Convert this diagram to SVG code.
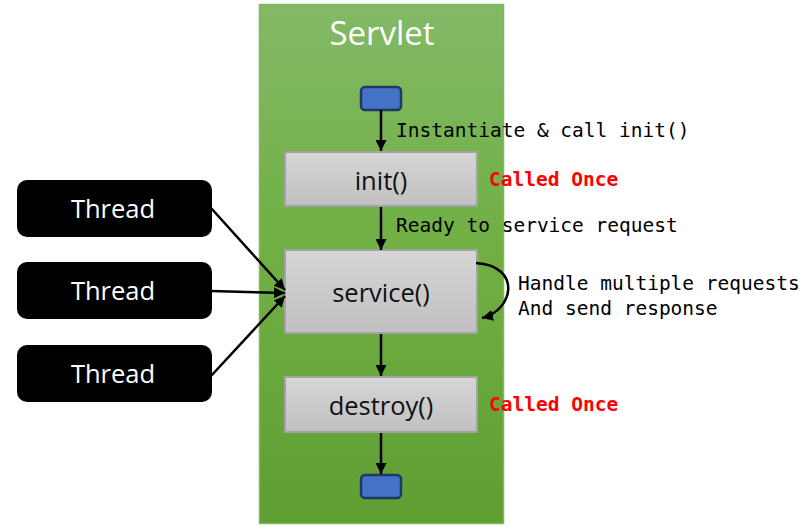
<svg xmlns="http://www.w3.org/2000/svg" width="806" height="532" viewBox="0 0 806 532">
<defs>
<linearGradient id="gGreen" x1="0" y1="0" x2="0" y2="1">
<stop offset="0" stop-color="#83b967"/>
<stop offset="0.45" stop-color="#70b044"/>
<stop offset="1" stop-color="#5f9e33"/>
</linearGradient>
<linearGradient id="gGray" x1="0" y1="0" x2="0" y2="1">
<stop offset="0" stop-color="#d6d6d6"/>
<stop offset="1" stop-color="#c0c0c0"/>
</linearGradient>
<marker id="ah" viewBox="0 0 10 10" refX="10" refY="5" markerWidth="4.4" markerHeight="4.4" markerUnits="strokeWidth" orient="auto">
<path d="M0,0 L10,5 L0,10 z" fill="#000"/>
</marker>
</defs>
<style>
.box{fill:url(#gGray);stroke:#a3a3a3;stroke-width:2}
.term{fill:#4472c4;stroke:#1f3864;stroke-width:2.5}
.thr{fill:#000}
.lbl{font-family:"Open Sans","Noto Sans",sans-serif;fill:#111;text-anchor:middle}
.wl{font-family:"Open Sans","Noto Sans",sans-serif;fill:#fff;text-anchor:middle}
.mono{font-family:"DejaVu Sans Mono","Liberation Mono",monospace;font-size:19.5px;fill:#000}
.red{font-family:"DejaVu Sans Mono","Liberation Mono",monospace;font-size:19.5px;font-weight:bold;fill:#ff0000}
.c{fill:none;stroke:#000;stroke-width:2.5;marker-end:url(#ah)}
</style>
<g id="servlet">
<rect x="259.5" y="4.5" width="244" height="519" fill="url(#gGreen)" stroke="#7db95a" stroke-width="1.5"/>
<text class="wl" x="382" y="45" font-size="33">Servlet</text>
</g>
<g id="start"><rect class="term" x="361" y="87" width="40" height="23" rx="4"/></g>
<g id="init"><rect class="box" x="285" y="152" width="192" height="54"/><text class="lbl" x="381" y="190" font-size="25.5">init()</text></g>
<g id="service"><rect class="box" x="285" y="250" width="192" height="83"/><text class="lbl" x="381" y="302" font-size="25.5">service()</text></g>
<g id="destroy"><rect class="box" x="285" y="377" width="192" height="55"/><text class="lbl" x="381" y="415" font-size="25.5">destroy()</text></g>
<g id="end"><rect class="term" x="361" y="475" width="40" height="23" rx="4"/></g>
<g id="thread1"><rect class="thr" x="17" y="180" width="195" height="57" rx="10"/><text class="wl" x="113" y="218" font-size="25.5">Thread</text></g>
<g id="thread2"><rect class="thr" x="17" y="262" width="195" height="57" rx="10"/><text class="wl" x="113" y="300" font-size="25.5">Thread</text></g>
<g id="thread3"><rect class="thr" x="17" y="345" width="195" height="57" rx="10"/><text class="wl" x="113" y="383" font-size="25.5">Thread</text></g>
<g id="connectors">
<line class="c" x1="211" y1="208" x2="285" y2="290"/>
<line class="c" x1="211" y1="291" x2="285" y2="293"/>
<line class="c" x1="211" y1="376" x2="285" y2="296"/>
<line class="c" x1="381" y1="110" x2="381" y2="151"/>
<line class="c" x1="381" y1="207" x2="381" y2="250"/>
<line class="c" x1="381" y1="334" x2="381" y2="376"/>
<line class="c" x1="381" y1="433" x2="381" y2="474"/>
<path class="c" d="M476,263 C522,266 514,310 482,318"/>
</g>
<g id="labels">
<text class="mono" x="396" y="137">Instantiate &amp; call init()</text>
<text class="red" x="489" y="186">Called Once</text>
<text class="mono" x="396" y="232">Ready to service request</text>
<text class="mono" x="518" y="290">Handle multiple requests</text>
<text class="mono" x="518" y="315">And send response</text>
<text class="red" x="489" y="411">Called Once</text>
</g>
</svg>
